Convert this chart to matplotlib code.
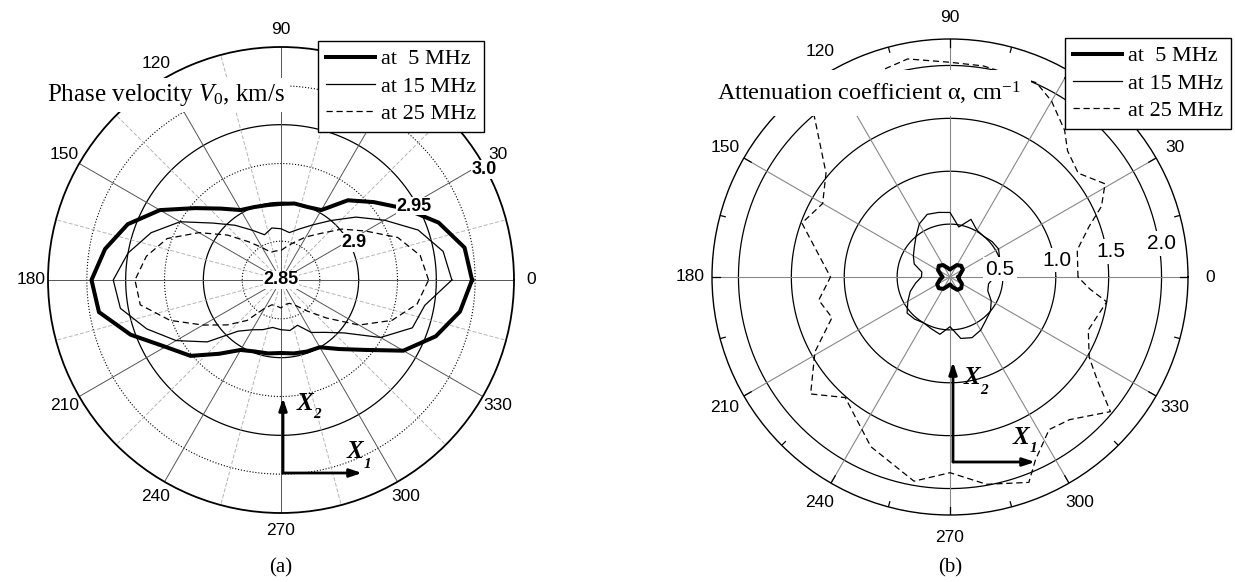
import numpy as np
import matplotlib.pyplot as plt
from matplotlib.lines import Line2D
from matplotlib.patches import FancyArrowPatch

plt.rcParams['font.family'] = 'Liberation Sans'
plt.rcParams['mathtext.fontset'] = 'custom'
plt.rcParams['mathtext.rm'] = 'Liberation Serif'
plt.rcParams['mathtext.it'] = 'Liberation Serif:italic'
plt.rcParams['mathtext.bf'] = 'Liberation Serif:bold'

# angles in degrees (10 deg steps)
angles = [0, 10, 20, 30, 40, 50, 60, 70, 80, 90, 100, 110, 120, 130, 140, 150, 160, 170,
          180, 190, 200, 210, 220, 230, 240, 250, 260, 270, 280, 290, 300, 310, 320, 330, 340, 350]

# (a) phase velocity, km/s
vel_5mhz = [2.973, 2.970, 2.958, 2.942, 2.928, 2.917, 2.902, 2.900, 2.900, 2.899, 2.899, 2.900,
            2.902, 2.910, 2.922, 2.940, 2.955, 2.965, 2.972, 2.969, 2.953, 2.936, 2.926, 2.912,
            2.902, 2.899, 2.898, 2.897, 2.898, 2.899, 2.900, 2.908, 2.920, 2.941, 2.956, 2.967]
vel_15mhz = [2.960, 2.956, 2.944, 2.927, 2.913, 2.900, 2.891, 2.885, 2.881, 2.883, 2.884, 2.881,
             2.887, 2.896, 2.907, 2.925, 2.939, 2.950, 2.958, 2.955, 2.942, 2.928, 2.912, 2.893,
             2.887, 2.884, 2.881, 2.882, 2.883, 2.881, 2.889, 2.894, 2.903, 2.924, 2.940, 2.944]
vel_25mhz = [2.945, 2.941, 2.930, 2.913, 2.901, 2.889, 2.882, 2.876, 2.872, 2.869, 2.869, 2.869,
             2.874, 2.882, 2.895, 2.911, 2.928, 2.938, 2.944, 2.942, 2.926, 2.908, 2.895, 2.884,
             2.871, 2.867, 2.867, 2.868, 2.866, 2.866, 2.869, 2.876, 2.888, 2.908, 2.926, 2.939]

# (b) attenuation coefficient, 1/cm
att5_angles = [0, 15, 30, 45, 60, 75, 90, 105, 120, 135, 150, 165,
               180, 195, 210, 225, 240, 255, 270, 285, 300, 315, 330, 345]
att_5mhz = [0.08, 0.10, 0.14, 0.15, 0.13, 0.09, 0.07, 0.09, 0.13, 0.15, 0.13, 0.09,
            0.07, 0.10, 0.14, 0.15, 0.13, 0.09, 0.07, 0.10, 0.14, 0.15, 0.13, 0.09]
att_15mhz = [0.42, 0.45, 0.50, 0.53, 0.52, 0.50, 0.51, 0.58, 0.48, 0.61, 0.62, 0.63,
             0.58, 0.50, 0.44, 0.40, 0.36, 0.27, 0.27, 0.33, 0.40, 0.46, 0.53, 0.52,
             0.50, 0.52, 0.55, 0.47, 0.59, 0.61, 0.58, 0.53, 0.50, 0.45, 0.38, 0.37]
att25_angles = [0, 12, 20, 25, 31, 39, 47, 52, 60, 66, 81, 90, 101, 115, 130, 140, 150, 160,
                180, 190, 199, 209, 220, 229, 245, 260, 270, 280, 291, 295, 303, 310, 320,
                325, 330, 339, 351, 355]
att_25mhz = [1.21, 1.23, 1.40, 1.58, 1.71, 1.56, 1.63, 1.76, 1.92, 2.01, 2.02, 2.03, 2.10, 2.05,
             2.00, 1.53, 1.39, 1.49, 1.13, 1.26, 1.18, 1.46, 1.72, 1.51, 1.77, 1.96, 1.85, 1.99,
             2.08, 1.91, 1.72, 1.76, 1.98, 1.70, 1.52, 1.40, 1.50, 1.33]

theta_ticks = [0, 30, 60, 90, 120, 150, 180, 210, 240, 270, 300, 330]
theta_labels = ['0', '30', '60', '90', '120', '150', '180', '210', '240', '270', '300', '330']
series_labels = ['at  5 MHz', 'at 15 MHz', 'at 25 MHz']

W, H = 1235, 582


def closed(deg, vals):
    t = np.deg2rad(np.append(deg, deg[0]))
    return t, np.append(vals, vals[0])


def fpx(x, y):
    # image pixel -> figure fraction
    return x / W, 1 - y / H


def angle_labels(ax, r_lab):
    for d, lab in zip(theta_ticks, theta_labels):
        ax.text(np.deg2rad(d), r_lab, lab, fontsize=12.5, ha='center', va='center', clip_on=False)


styles = [dict(color='k', lw=2.9), dict(color='k', lw=0.9), dict(color='k', lw=0.9, ls=(0, (5, 3)))]

fig = plt.figure(figsize=(W / 100, H / 100), dpi=100)
full = np.linspace(0, 2 * np.pi, 500)

# ---------------- panel (a) ----------------
axa = fig.add_axes([48 / W, 69 / H, 466 / W, 466 / H], projection='polar')
axa.set_ylim(2.85, 3.0)
axa.grid(False)
axa.set_yticks([])
axa.set_xticks([])
axa.spines['polar'].set_linewidth(1.3)
angle_labels(axa, 2.85 + 0.15 * 250 / 233)
for rv, ls in [(2.875, ':'), (2.9, '-'), (2.925, ':'), (2.95, '-'), (2.975, ':')]:
    axa.plot(full, np.full_like(full, rv), color='k', lw=0.9 if ls == '-' else 0.8, ls=ls, zorder=1)
for d in range(0, 360, 15):
    t = np.deg2rad(d)
    if d % 30 == 0:
        axa.plot([t, t], [2.85, 3.0], color='#555555', lw=0.7, zorder=1)
    else:
        axa.plot([t, t], [2.85, 3.0], color='#b5b5b5', lw=0.7, ls=(0, (4, 2)), zorder=1)

for vals, st in zip([vel_5mhz, vel_15mhz, vel_25mhz], styles):
    t, r = closed(angles, vals)
    axa.plot(t, r, zorder=3, **st)

lab_kw = dict(fontsize=13, fontweight='bold', ha='center', va='center', zorder=6,
              bbox=dict(fc='white', ec='none', pad=0.5))
axa.text(0, 2.85, '2.85', **lab_kw)
axa.text(np.deg2rad(27), 2.903, '2.9', **lab_kw)
axa.text(np.deg2rad(29), 2.948, '2.95', **lab_kw)
axa.text(np.deg2rad(28.5), 2.999, '3.0', **lab_kw)

fig.text(*fpx(47, 95), r'Phase velocity $V_{\mathit{0}}$, km/s', family='Liberation Serif',
         fontsize=18, ha='left', va='center', zorder=5,
         bbox=dict(fc='white', ec='none', pad=3))

handles = [Line2D([], [], **st) for st in styles]
leg_kw = dict(loc='upper left', prop={'family': 'Liberation Serif', 'size': 16}, frameon=True,
              fancybox=False, edgecolor='k', framealpha=1, borderpad=0.35, labelspacing=0.3,
              handlelength=2.2, handletextpad=0.3, borderaxespad=0)
leg = fig.legend(handles, series_labels, bbox_to_anchor=fpx(318, 41), **leg_kw)
leg.get_frame().set_linewidth(1.0)

# ---------------- panel (b) ----------------
axb = fig.add_axes([712 / W, 67 / H, 476 / W, 476 / H], projection='polar')
axb.set_ylim(0, 2.25)
axb.grid(False)
axb.set_yticks([])
axb.set_xticks([])
axb.spines['polar'].set_linewidth(1.0)
angle_labels(axb, 2.25 * 260 / 238)
for rv in [0.5, 1.0, 1.5, 2.0]:
    axb.plot(full, np.full_like(full, rv), color='k', lw=0.9, zorder=1)
for d in range(0, 360, 30):
    t = np.deg2rad(d)
    axb.plot([t, t], [0, 2.25], color='#888888', lw=0.8, zorder=1)
    axb.plot([t, t], [2.17, 2.25], color='k', lw=0.9, zorder=2)
    t2 = np.deg2rad(d + 15)
    axb.plot([t2, t2], [2.2, 2.25], color='k', lw=0.9, zorder=2)

t, r = closed(att5_angles, att_5mhz)
axb.plot(t, r, zorder=3, **styles[0])
t, r = closed(angles, att_15mhz)
axb.plot(t, r, zorder=3, **styles[1])
t, r = closed(att25_angles, att_25mhz)
axb.plot(t, r, zorder=3, **styles[2])

lab_kw_b = dict(fontsize=15, ha='center', va='center', zorder=6,
                bbox=dict(fc='white', ec='none', pad=2))
for rv, txt in [(0.48, '0.5'), (1.02, '1.0'), (1.54, '1.5'), (2.02, '2.0')]:
    axb.text(np.deg2rad(9), rv, txt, **lab_kw_b)

fig.text(*fpx(717, 93), r'Attenuation coefficient α, cm$^{-1}$', family='Liberation Serif',
         fontsize=17.5, ha='left', va='center', zorder=5,
         bbox=dict(boxstyle='square,pad=0.4', fc='white', ec='none'))

leg2 = fig.legend(handles, series_labels, bbox_to_anchor=fpx(1065, 38), **leg_kw)
leg2.get_frame().set_linewidth(1.0)

# ---------------- axis arrows X1 / X2 ----------------
arrow_kw = dict(arrowstyle='-|>,head_length=0.6,head_width=0.2', color='k', lw=2,
                mutation_scale=12, shrinkA=0, shrinkB=0)
arrow_sets = [
    # origin, arrow top y, arrow right x, X2 glyph centre, X1 glyph centre
    ((283, 473), 398, 362, (305, 403), (355, 452)),
    ((953, 462), 362, 1035, (972, 378), (1021, 437)),
]
for (ox, oy), top, right, x2c, x1c in arrow_sets:
    fig.add_artist(FancyArrowPatch(fpx(ox, oy), fpx(ox, top), transform=fig.transFigure, **arrow_kw))
    fig.add_artist(FancyArrowPatch(fpx(ox, oy), fpx(right, oy), transform=fig.transFigure, **arrow_kw))
    for (px, py), sub in [(x2c, '2'), (x1c, '1')]:
        fig.text(*fpx(px, py), 'X', family='Liberation Serif', style='italic',
                 fontweight='bold', fontsize=18, ha='center', va='center')
        fig.text(*fpx(px + 12, py + 12), sub, family='Liberation Serif', style='italic',
                 fontweight='bold', fontsize=11, ha='center', va='center')

fig.text(*fpx(281, 568), '(a)', family='Liberation Serif', fontsize=15, ha='center', va='center')
fig.text(*fpx(950, 568), '(b)', family='Liberation Serif', fontsize=15, ha='center', va='center')

fig.savefig('out.png', dpi=100, facecolor='white')
